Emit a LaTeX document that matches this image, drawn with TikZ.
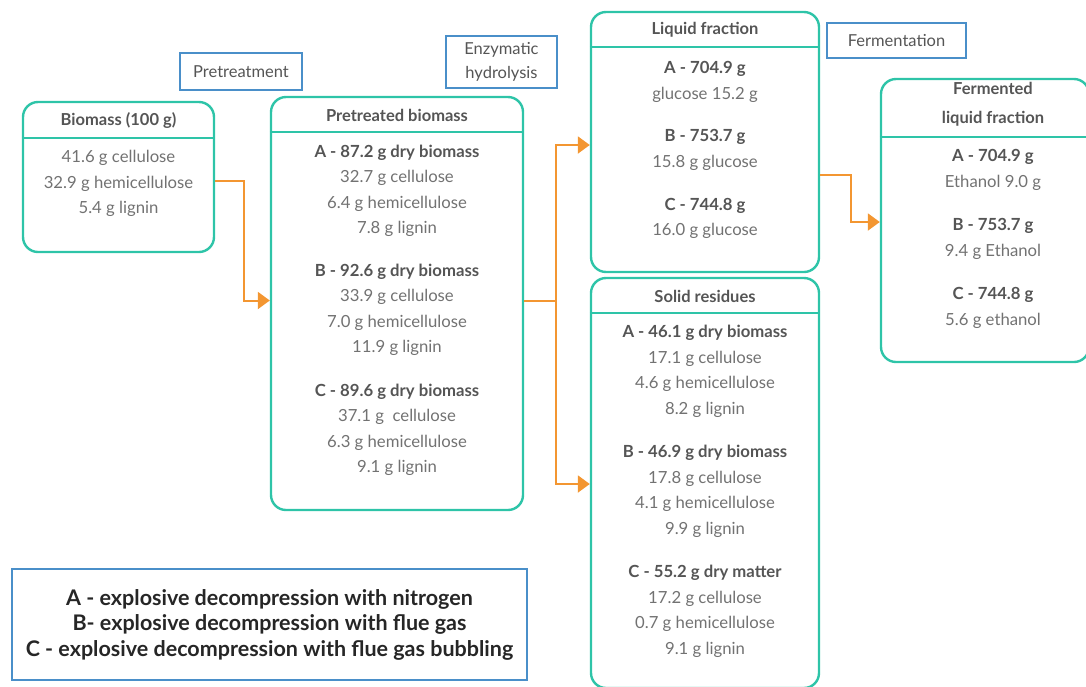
\documentclass[tikz,border=0pt]{standalone}
\usepackage{fontspec}
\setmainfont{Lato}
\usetikzlibrary{arrows.meta}

\definecolor{boxteal}{HTML}{2EC4A8}
\definecolor{labelblue}{HTML}{4A8FC9}
\definecolor{floworange}{HTML}{F39631}
\definecolor{textgray}{HTML}{727272}
\definecolor{headgray}{HTML}{555555}

\newcommand{\batch}[1]{\textcolor{headgray}{\textbf{#1}}}

\begin{document}
\begin{tikzpicture}
		[x=1pt, y=-1pt,
		stage/.style={draw=boxteal, line width=2.4pt, rounded corners=15pt, inner sep=0pt},
		steplabel/.style={draw=labelblue, line width=1.8pt, inner sep=0pt, align=center,
			text=headgray, font=\fontsize{16.5}{24}\selectfont},
		title/.style={text=headgray, align=center, font=\bfseries\fontsize{16.5}{29}\selectfont},
		entry/.style={text=textgray, align=center, font=\fontsize{16.7}{25.5}\selectfont},
		flow/.style={draw=floworange, line width=2pt, -{Triangle[length=12pt, width=17pt]}}]
		\useasboundingbox (0,0) rectangle (1086,686);

		% stages
		\node[stage, minimum width=191, minimum height=150] (bio) at (118.5,177) {};
		\node[stage, minimum width=252, minimum height=413] (pre) at (397,303.5) {};
		\node[stage, minimum width=228, minimum height=260] (liq) at (705,142) {};
		\node[stage, minimum width=228, minimum height=410] (sol) at (705,483) {};
		\node[stage, minimum width=208, minimum height=283] (fer) at (985,220.5) {};

		\draw[boxteal, line width=2.4pt] (bio.west |- 0,138) -- (bio.east |- 0,138);
		\draw[boxteal, line width=2.4pt] (pre.west |- 0,132) -- (pre.east |- 0,132);
		\draw[boxteal, line width=2.4pt] (liq.west |- 0,47) -- (liq.east |- 0,47);
		\draw[boxteal, line width=2.4pt] (sol.west |- 0,313) -- (sol.east |- 0,313);
		\draw[boxteal, line width=2.4pt] (fer.west |- 0,137) -- (fer.east |- 0,137);

		% titles
		\node[title] (biot) at (118.5,121) {Biomass (100 g)};
		\node[title] (pret) at (397,115) {Pretreated biomass};
		\node[title] (liqt) at (705,30) {Liquid fraction};
		\node[title] (solt) at (705,296) {Solid residues};
		\node[title] (fert) at (993,104) {Fermented\\liquid fraction};

		% contents
		\node[entry] (bio1) at (118.5,183.5) {41.6 g cellulose\\32.9 g hemicellulose\\5.4 g lignin};

		\node[entry] (preA) at (397,191) {\batch{A - 87.2 g dry biomass}\\32.7 g cellulose\\6.4 g hemicellulose\\7.8 g lignin};
		\node[entry] (preB) at (397,310) {\batch{B - 92.6 g dry biomass}\\33.9 g cellulose\\7.0 g hemicellulose\\11.9 g lignin};
		\node[entry] (preC) at (397,430) {\batch{C - 89.6 g dry biomass}\\37.1 g~ cellulose\\6.3 g hemicellulose\\9.1 g lignin};

		\node[entry] (liqA) at (705,82) {\batch{A - 704.9 g}\\glucose 15.2 g};
		\node[entry] (liqB) at (705,150) {\batch{B - 753.7 g}\\15.8 g glucose};
		\node[entry] (liqC) at (705,218.5) {\batch{C - 744.8 g}\\16.0 g glucose};

		\node[entry] (solA) at (705,371.5) {\batch{A - 46.1 g dry biomass}\\17.1 g cellulose\\4.6 g hemicellulose\\8.2 g lignin};
		\node[entry] (solB) at (705,491.5) {\batch{B - 46.9 g dry biomass}\\17.8 g cellulose\\4.1 g hemicellulose\\9.9 g lignin};
		\node[entry] (solC) at (705,611.5) {\batch{C - 55.2 g dry matter}\\17.2 g cellulose\\0.7 g hemicellulose\\9.1 g lignin};

		\node[entry] (ferA) at (993,170) {\batch{A - 704.9 g}\\Ethanol 9.0 g};
		\node[entry] (ferB) at (993,239) {\batch{B - 753.7 g}\\9.4 g Ethanol};
		\node[entry] (ferC) at (993,308) {\batch{C - 744.8 g}\\5.6 g ethanol};

		% process steps
		\node[steplabel, minimum width=122, minimum height=37] (ptr) at (241,71.5) {Pretreatment};
		\node[steplabel, minimum width=111, minimum height=52] (enz) at (501.5,62) {Enzymatic\\hydrolysis};
		\node[steplabel, minimum width=139, minimum height=35] (fmt) at (896.5,40.5) {Fermentation};

		% flows
		\draw[flow] ([yshift=-4pt]bio.east) -- ++(29,0) |- ([yshift=3pt]pre.west);
		\draw[flow] ([yshift=3pt]pre.east) -- ++(32,0) |- ([yshift=-3pt]liq.west);
		\draw[flow] ([yshift=3pt]pre.east) -- ++(32,0) |- ([yshift=-1pt]sol.west);
		\draw[flow] ([yshift=-33pt]liq.east) -- ++(31,0) |- ([yshift=-1.5pt]fer.west);

		% legend
		\node[draw=labelblue, line width=1.8pt, minimum width=515, minimum height=111,
			align=center, font=\bfseries\fontsize{21.5}{25.5}\selectfont, text=black!85] (key) at (269.5,624.5)
			{A - explosive decompression with nitrogen\\B- explosive decompression with flue gas\\C - explosive decompression with flue gas bubbling};
	\end{tikzpicture}
\end{document}
